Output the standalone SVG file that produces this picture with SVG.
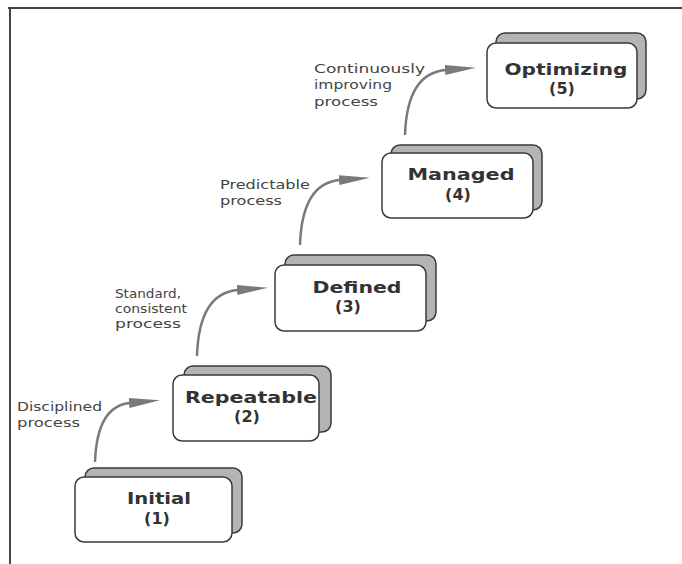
<svg xmlns="http://www.w3.org/2000/svg" width="682" height="564" viewBox="0 0 682 564">
<style>
.back{fill:#b4b4b4;stroke:#3a3a3a;stroke-width:1.5}
.front{fill:#ffffff;stroke:#3a3a3a;stroke-width:1.5}
.title{font-family:"DejaVu Sans",sans-serif;font-weight:bold;font-size:16px;fill:#333;text-anchor:middle}
.lbl{font-family:"DejaVu Sans",sans-serif;font-size:12px;fill:#444}
.arc{fill:none;stroke:#7a7a7a;stroke-width:2.5;marker-end:url(#head)}
.frame{stroke:#444;stroke-width:2;fill:none}
</style>
<defs>
<marker id="head" markerUnits="userSpaceOnUse" markerWidth="32" markerHeight="12" refX="1" refY="6" orient="auto">
<path d="M0,1 L31,6 L0,11 z" fill="#7a7a7a"/>
</marker>
</defs>
<rect width="682" height="564" fill="#ffffff"/>
<path class="frame" d="M8,8 H682 M10,8 V564"/>
<g id="connectors">
<path class="arc" d="M95,462 Q97,406 130,403"/>
<path class="arc" d="M197,356 Q199,293 238,290"/>
<path class="arc" d="M300,245 Q302,183 340,180"/>
<path class="arc" d="M405,135 Q407,73 446,70"/>
</g>
<g id="labels">
<text class="lbl" x="17" y="411" textLength="85" lengthAdjust="spacingAndGlyphs">Disciplined</text>
<text class="lbl" x="17" y="427" textLength="63" lengthAdjust="spacingAndGlyphs">process</text>
<text class="lbl" x="115" y="298" textLength="66" lengthAdjust="spacingAndGlyphs">Standard,</text>
<text class="lbl" x="115" y="313" textLength="72" lengthAdjust="spacingAndGlyphs">consistent</text>
<text class="lbl" x="115" y="328" textLength="66" lengthAdjust="spacingAndGlyphs">process</text>
<text class="lbl" x="220" y="189" textLength="90" lengthAdjust="spacingAndGlyphs">Predictable</text>
<text class="lbl" x="220" y="205" textLength="62" lengthAdjust="spacingAndGlyphs">process</text>
<text class="lbl" x="314" y="73" textLength="111" lengthAdjust="spacingAndGlyphs">Continuously</text>
<text class="lbl" x="314" y="89" textLength="78" lengthAdjust="spacingAndGlyphs">improving</text>
<text class="lbl" x="314" y="106" textLength="64" lengthAdjust="spacingAndGlyphs">process</text>
</g>
<g id="node-initial">
<rect class="back" x="85" y="468" width="157" height="65" rx="9"/>
<rect class="front" x="75" y="477" width="157" height="65" rx="9"/>
<text class="title" x="159" y="504" textLength="64" lengthAdjust="spacingAndGlyphs">Initial</text>
<text class="title" x="157" y="524">(1)</text>
</g>
<g id="node-repeatable">
<rect class="back" x="184" y="366" width="147" height="66" rx="9"/>
<rect class="front" x="173" y="375" width="146" height="66" rx="9"/>
<text class="title" x="251" y="403" textLength="132" lengthAdjust="spacingAndGlyphs">Repeatable</text>
<text class="title" x="247" y="422">(2)</text>
</g>
<g id="node-defined">
<rect class="back" x="285" y="255" width="151" height="66" rx="9"/>
<rect class="front" x="275" y="265" width="151" height="66" rx="9"/>
<text class="title" x="357" y="293" textLength="89" lengthAdjust="spacingAndGlyphs">Defined</text>
<text class="title" x="348" y="312">(3)</text>
</g>
<g id="node-managed">
<rect class="back" x="391" y="145" width="151" height="65" rx="9"/>
<rect class="front" x="382" y="153" width="151" height="65" rx="9"/>
<text class="title" x="461" y="180" textLength="107" lengthAdjust="spacingAndGlyphs">Managed</text>
<text class="title" x="458" y="200">(4)</text>
</g>
<g id="node-optimizing">
<rect class="back" x="496" y="33" width="150" height="66" rx="9"/>
<rect class="front" x="487" y="43" width="150" height="65" rx="9"/>
<text class="title" x="566" y="75" textLength="123" lengthAdjust="spacingAndGlyphs">Optimizing</text>
<text class="title" x="562" y="94">(5)</text>
</g>
</svg>
